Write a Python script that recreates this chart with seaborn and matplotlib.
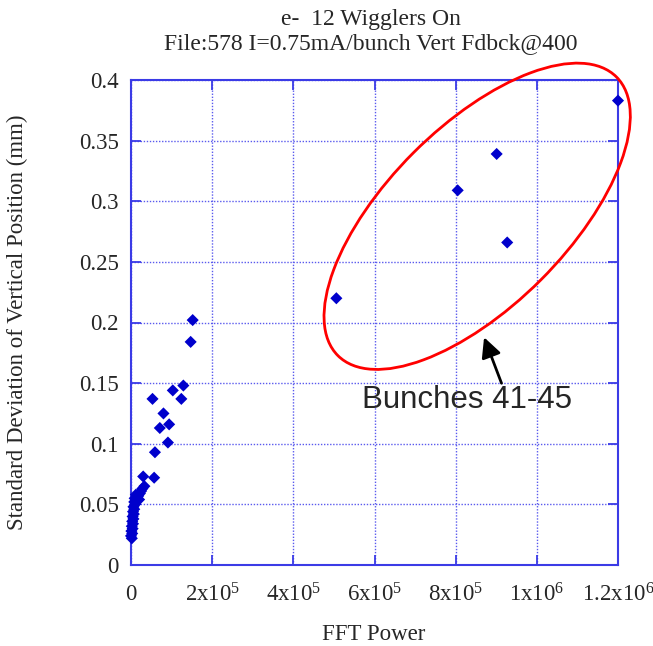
import matplotlib
matplotlib.use("Agg")
import matplotlib.pyplot as plt
import matplotlib.transforms as mtransforms
from matplotlib.patches import Ellipse
import seaborn as sns
import pandas as pd

# FFT power and vertical-position spread per bunch
fft_power = [
    1200000, 901000, 805000, 927000, 506000,
    152000, 147000, 129000, 103000, 124000, 53000,
    80000, 71000, 94000, 91000, 59000, 30000, 57000,
    2000, 0, 3000, 1000, 4000, 2000, 5000, 3000, 6000, 4000,
    7000, 5000, 8000, 6000, 10000, 8000, 12000, 9000, 15000,
    18000, 12000, 22000, 25000, 28000, 33000, 20000,
]
std_dev_mm = [
    0.383, 0.339, 0.309, 0.266, 0.220,
    0.202, 0.184, 0.148, 0.144, 0.137, 0.137,
    0.125, 0.113, 0.116, 0.101, 0.093, 0.073, 0.072,
    0.022, 0.024, 0.026, 0.028, 0.030, 0.032, 0.034, 0.036, 0.038, 0.040,
    0.042, 0.044, 0.046, 0.048, 0.050, 0.052, 0.053, 0.055, 0.056,
    0.057, 0.058, 0.059, 0.061, 0.063, 0.065, 0.054,
]

x_ticks = [0, 200000, 400000, 600000, 800000, 1000000, 1200000]
x_tick_labels = ["0", "2x10$^{5}$", "4x10$^{5}$", "6x10$^{5}$",
                 "8x10$^{5}$", "1x10$^{6}$", "1.2x10$^{6}$"]
y_ticks = [0, 0.05, 0.1, 0.15, 0.2, 0.25, 0.3, 0.35, 0.4]
y_tick_labels = ["0", "0.05", "0.1", "0.15", "0.2", "0.25", "0.3", "0.35", "0.4"]

title_text = "e-  12 Wigglers On\nFile:578 I=0.75mA/bunch Vert Fdbck@400"
x_label = "FFT Power"
y_label = "Standard Deviation of Vertical Position (mm)"
note_text = "Bunches 41-45"

sns.set_theme(style="white")
plt.rcParams["font.family"] = ["Liberation Serif", "DejaVu Serif"]
plt.rcParams["mathtext.fontset"] = "custom"
plt.rcParams["mathtext.rm"] = "Liberation Serif"
plt.rcParams["mathtext.it"] = "Liberation Serif:italic"

axis_blue = "#3b3be6"
mark_blue = "#0000cc"

df = pd.DataFrame({"power": fft_power, "std": std_dev_mm})

W, H = 653, 646
fig = plt.figure(figsize=(W / 100, H / 100), dpi=100)
ax = fig.add_axes([131 / W, 81 / H, 487 / W, 485 / H])

sns.scatterplot(data=df, x="power", y="std", marker="D", s=38,
                color=mark_blue, edgecolor="none", linewidth=0, ax=ax,
                zorder=5, clip_on=False)

ax.set_xlim(0, 1200000)
ax.set_ylim(0, 0.4)
ax.set_xticks(x_ticks)
ax.set_xticklabels(x_tick_labels)
ax.set_yticks(y_ticks)
ax.set_yticklabels(y_tick_labels)

ax.grid(True, color="#5a5aee", linestyle=(0, (1, 1.2)), linewidth=1.0)
for sp in ax.spines.values():
    sp.set_color(axis_blue)
    sp.set_linewidth(1.5)
    sp.set_visible(True)

ax.tick_params(axis="both", which="major", direction="in", length=7,
               width=1.3, color=axis_blue, labelsize=16.5,
               top=True, right=True, bottom=True, left=True,
               labeltop=False, labelright=False)
ax.tick_params(axis="x", pad=13.5)
ax.tick_params(axis="y", pad=9)

ax.set_xlabel("")
ax.set_ylabel(y_label, fontsize=16.5)
ax.yaxis.set_label_coords((28 - 131) / 487, 0.5)
fig.text(374 / W, 11 / H, x_label, fontsize=16.5, ha="center", va="center")
fig.text(371 / W, 1 - 31.5 / H, title_text, fontsize=17, ha="center",
         va="center", linespacing=1.2)

# highlight ellipse around the high-power bunches, sized in inches
ellipse_tf = fig.dpi_scale_trans + mtransforms.ScaledTranslation(
    853000, 0.2876, ax.transData)
ax.add_patch(Ellipse((0, 0), width=3.94, height=1.80, angle=45,
                     fill=False, edgecolor="#ff0000", linewidth=2,
                     transform=ellipse_tf, clip_on=False, zorder=6))

ax.annotate("", xy=(870000, 0.1878), xytext=(913000, 0.1499),
            arrowprops=dict(arrowstyle="-|>,head_length=1.0,head_width=0.5",
                            color="black", lw=2, shrinkA=0, shrinkB=0),
            zorder=7)
ax.text(827000, 0.136, note_text, fontsize=22.5, family="Liberation Sans",
        ha="center", va="center", zorder=7)

fig.savefig("out.png", dpi=100)
